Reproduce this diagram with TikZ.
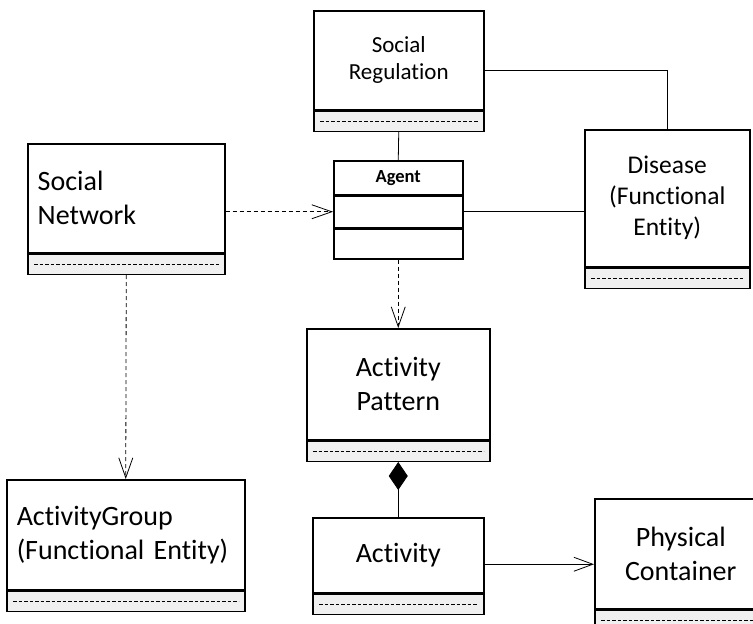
\documentclass[tikz,border=0pt]{standalone}
\usepackage{fontspec}
\setmainfont{Carlito}[Ligatures=NoCommon]
\usetikzlibrary{arrows.meta}

\tikzset{
    classname/.style={draw, line width=1.5pt, fill=white, anchor=north west,
        inner xsep=10pt, inner ysep=0pt, align=center,
        font=\fontsize{28}{34}\selectfont},
    classops/.style={draw, line width=1.5pt, fill=black!6, inner sep=0pt,
        minimum height=20pt},
    opsline/.style={dash pattern=on 3.5pt off 2pt, line width=1pt},
    agentpart/.style={draw, line width=1.5pt, inner sep=0pt, minimum width=129pt},
    assoc/.style={line width=0.8pt},
    depend/.style={line width=0.8pt, dash pattern=on 4pt off 3pt,
        -{Straight Barb[length=20pt,width=14pt,line width=0.8pt]}},
    compose/.style={line width=0.8pt, -{Diamond[length=28pt,width=19pt]}},
    navig/.style={line width=0.8pt,
        -{Straight Barb[length=19pt,width=14pt,line width=0.8pt]}}
}

% class box: name compartment + empty grey compartment
\newcommand{\umlclass}[6][]{%
    \node[classname, #1, minimum width=#4, minimum height=#5] (#2) at (#3) {#6};
    \node[classops, minimum width=#4, anchor=north] (#2-ops) at (#2.south) {};
    \draw[opsline] ([xshift=7]#2-ops.west) -- ([xshift=-7]#2-ops.east);
}

\begin{document}
\begin{tikzpicture}[x=1pt, y=-1pt]% [ show background grid ]
    \useasboundingbox (0,0) rectangle (753,624);
    \clip (0,0) rectangle (753,624);

    \umlclass[font=\fontsize{23}{27}\selectfont]{SR}{313,10}{170}{99}{Social\\Regulation}
    \umlclass[align=left, text width=177pt]{SN}{27,143}{197}{109}{Social\\Network}
    \umlclass[font=\fontsize{25.5}{31}\selectfont]{Disease}{584,129}{165}{137}{Disease\\(Functional\\Entity)}
    \umlclass{AP}{306,328}{183}{111}{Activity\\Pattern}
    \umlclass[align=left, text width=218pt]{AG}{6,479}{238}{110}{ActivityGroup\\(Functional Entity)}
    \umlclass{Activity}{312,517}{171}{75}{Activity}
    \umlclass{PC}{594,498}{172}{110}{Physical\\Container}

    \node[agentpart, minimum height=34pt, anchor=north west,
        font=\bfseries\fontsize{18.5}{22}\selectfont] (Agent) at (333,160) {Agent};
    \node[agentpart, minimum height=31pt, anchor=north] (Agent-attr) at (Agent.south) {};
    \node[agentpart, minimum height=30pt, anchor=north] (Agent-ops) at (Agent-attr.south) {};

    \draw[assoc] ([yshift=-10]SR.east) -| (Disease.north);
    \draw[assoc] (SR-ops.south) -- (Agent.north);
    \draw[assoc] (Agent-attr.east) -- (Agent-attr.east -| Disease.west);
    \draw[depend] (SN.east |- Agent-attr.west) -- (Agent-attr.west);
    \draw[depend] (Agent-ops.south) -- (AP.north);
    \draw[depend] (SN-ops.south) -- (AG.north);
    \draw[compose] (Activity.north) -- (AP-ops.south);
    \draw[navig] ([yshift=-9]Activity.east) -- ([yshift=-9]Activity.east -| PC.west);

\end{tikzpicture}
\end{document}
